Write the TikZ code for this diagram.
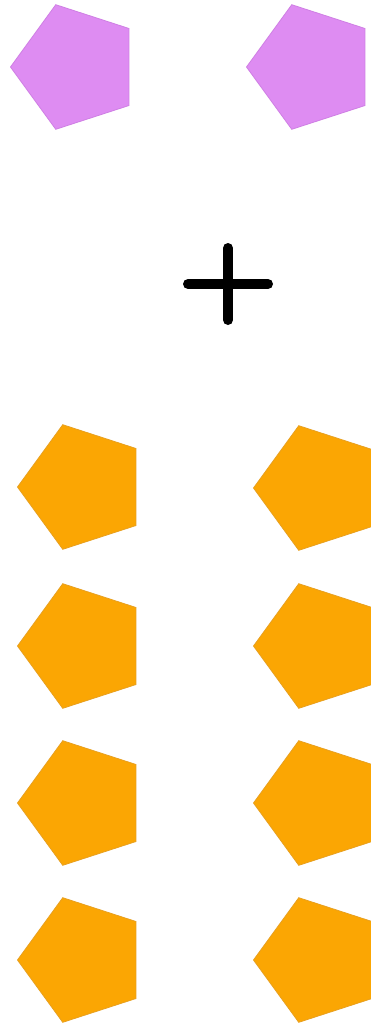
\documentclass[tikz,border=0pt]{standalone}
\usetikzlibrary{shapes.geometric}
\definecolor{pent}{HTML}{DE8CF2}
\definecolor{pentedge}{HTML}{CF7FE4}
\definecolor{orng}{HTML}{FBA603}
\definecolor{orngedge}{HTML}{E8A020}
\begin{document}
\begin{tikzpicture}[x=1pt,y=-1pt,
  pbase/.style={regular polygon, regular polygon sides=5, shape border rotate=90, minimum size=131pt, inner sep=0pt, outer sep=0pt, line width=0.8pt},
  purplepent/.style={pbase, fill=pent, draw=pentedge},
  orangepent/.style={pbase, fill=orng, draw=orngedge},
  plusbar/.style={line width=10pt, line cap=round, black}]
\useasboundingbox (0,0) rectangle (371,1031);
\fill[white] (0,0) rectangle (371,1031);
\clip (0,0) rectangle (371,1031);
\node[purplepent] (p1) at (76,67) {};
\node[purplepent] (p2) at (312,67) {};
\draw[plusbar] (188,284) -- (268,284);
\draw[plusbar] (228,248) -- (228,320);
\node[orangepent] (o11) at (83,487) {};
\node[orangepent] (o12) at (319,488) {};
\node[orangepent] (o21) at (83,646) {};
\node[orangepent] (o22) at (319,646) {};
\node[orangepent] (o31) at (83,803) {};
\node[orangepent] (o32) at (319,803) {};
\node[orangepent] (o41) at (83,960) {};
\node[orangepent] (o42) at (319,960) {};
\end{tikzpicture}
\end{document}
